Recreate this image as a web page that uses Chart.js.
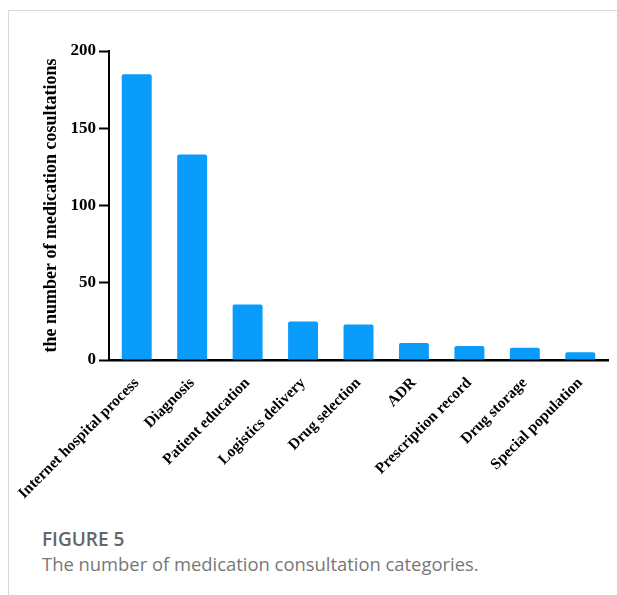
<!DOCTYPE html>
<html>
<head>
<meta charset="utf-8">
<script src="https://cdn.jsdelivr.net/npm/chart.js@4"></script>
<style>
    html, body { margin: 0; padding: 0; background: #fff; }
    body { width: 617px; height: 595px; position: relative; overflow: hidden; }
    .frame {
        position: absolute; left: 8px; top: 10px; right: 0; bottom: 0;
        border-top: 1px solid #d9d9d9; border-left: 1px solid #d9d9d9;
    }
    #chart-wrap { position: absolute; left: 0; top: 0; width: 617px; height: 510px; }
    .fig-label {
        position: absolute; left: 42px; top: 529px; line-height: 20px;
        font-family: "Open Sans", sans-serif; font-weight: 600; font-size: 19px; color: #666;
    }
    .fig-caption {
        position: absolute; left: 42px; top: 554px; line-height: 20px;
        font-family: "Open Sans", sans-serif; font-size: 18.4px; color: #777;
    }
</style>
</head>
<body>
<div class="frame"></div>
<div id="chart-wrap"><canvas id="consult-chart" width="617" height="510"></canvas></div>
<div class="fig-label">FIGURE 5</div>
<div class="fig-caption">The number of medication consultation categories.</div>

<script>
// chart data
const categories = [
    'Internet hospital process', 'Diagnosis', 'Patient education', 'Logistics delivery',
    'Drug selection', 'ADR', 'Prescription record', 'Drug storage', 'Special population'
];
const consultations = [185, 133, 36, 25, 23, 11, 9, 8, 5];
const yTicks = [0, 50, 100, 150, 200];
const yTitle = 'the number of medication cosultations';

const serif = 'Liberation Serif, Times New Roman, serif';

new Chart(document.getElementById('consult-chart'), {
    type: 'bar',
    data: {
        labels: categories,
        datasets: [{
            data: consultations,
            backgroundColor: '#0a9cfb',
            borderRadius: 2,
            borderSkipped: 'bottom',
            barPercentage: 0.54,
            categoryPercentage: 1
        }]
    },
    options: {
        responsive: false,
        animation: false,
        layout: { padding: { top: 51, right: 9, left: 0, bottom: 0 } },
        plugins: {
            legend: { display: false },
            tooltip: { enabled: false }
        },
        scales: {
            x: {
                grid: { display: false, drawTicks: false },
                border: { display: true, color: '#000', width: 2.5 },
                ticks: {
                    color: '#000',
                    font: { family: serif, size: 15.5, weight: 'bold' },
                    minRotation: 45,
                    maxRotation: 45,
                    autoSkip: false,
                    padding: 14
                },
                afterFit: (scale) => {
                    scale.height = 150;
                    scale.paddingLeft = 0;
                    scale.paddingRight = 0;
                }
            },
            y: {
                min: yTicks[0],
                max: yTicks[yTicks.length - 1],
                afterBuildTicks: (scale) => {
                    scale.ticks = yTicks.map(v => ({ value: v }));
                },
                grid: {
                    drawOnChartArea: false,
                    drawTicks: true,
                    tickLength: 10,
                    tickWidth: 2,
                    tickColor: '#000'
                },
                border: { display: true, color: '#000', width: 2 },
                ticks: {
                    color: '#000',
                    font: { family: serif, size: 17, weight: 'bold' },
                    padding: 3
                },
                title: {
                    display: true,
                    text: yTitle,
                    color: '#000',
                    font: { family: serif, size: 18, weight: 'bold' },
                    padding: { top: 41, bottom: 0 }
                },
                afterFit: (scale) => {
                    scale.width = 109;
                    scale.paddingTop = 0;
                    scale.paddingBottom = 0;
                }
            }
        }
    }
});
</script>
</body>
</html>
